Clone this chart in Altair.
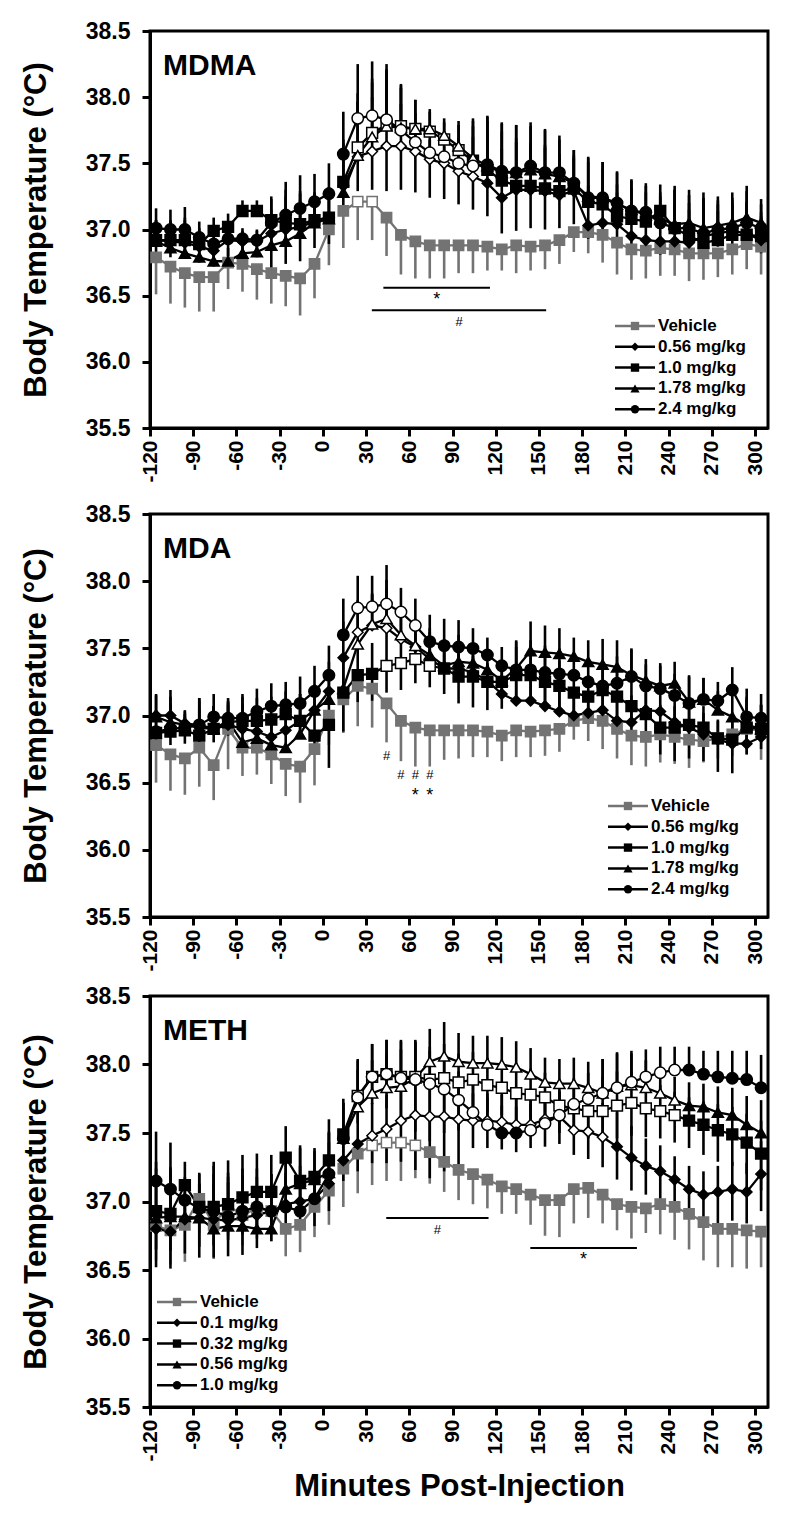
import altair as alt
import pandas as pd

FONT = "Liberation Sans"
GREY = "#737373"

# ---------------- data ----------------
times = [-120, -110, -100, -90, -80, -70, -60, -50, -40, -30, -20, -10, 0,
         10, 20, 30, 40, 50, 60, 70, 80, 90, 100, 110, 120, 130, 140, 150, 160,
         170, 180, 190, 200, 210, 220, 230, 240, 250, 260, 270, 280, 290, 300]

mdma_labels = ["Vehicle", "0.56 mg/kg", "1.0 mg/kg", "1.78 mg/kg", "2.4 mg/kg"]
meth_labels = ["Vehicle", "0.1 mg/kg", "0.32 mg/kg", "0.56 mg/kg", "1.0 mg/kg"]

# MDMA
mdma_veh = [36.79, 36.72, 36.67, 36.64, 36.64, 36.75, 36.74, 36.70, 36.67, 36.65, 36.63, 36.74, 37.00,
            37.14, 37.21, 37.21, 37.09, 36.96, 36.91, 36.88, 36.88, 36.88, 36.88, 36.87, 36.85, 36.88, 36.87,
            36.88, 36.92, 36.98, 36.98, 36.96, 36.90, 36.85, 36.84, 36.86, 36.85, 36.82, 36.82, 36.82, 36.85,
            36.89, 36.87]
mdma_veh_sem = [.28, .28, .26, .26, .26, .20, .21, .23, .23, .23, .28, .26, .27,
                .28, .29, .29, .29, .30, .28, .25, .25, .21, .21, .18, .16, .21, .18, .18, .18, .15, .16,
                .21, .24, .23, .21, .21, .20, .21, .20, .18, .19, .19, .21]
mdma_056 = [36.92, 36.91, 36.90, 36.87, 36.84, 36.92, 36.91, 36.91, 36.97, 37.00, 37.02, 37.06, 37.09,
            37.33, 37.55, 37.59, 37.63, 37.63, 37.59, 37.53, 37.50, 37.44, 37.40, 37.35, 37.24, 37.30, 37.30,
            37.29, 37.26, 37.29, 37.03, 37.05, 37.04, 36.95, 36.92, 36.91, 36.91, 36.90, 36.95, 36.97, 36.99,
            36.97, 36.92]
mdma_10 = [36.92, 36.92, 36.92, 36.89, 36.99, 37.02, 37.14, 37.14, 37.07, 37.05, 37.04, 37.07, 37.09,
           37.36, 37.62, 37.73, 37.79, 37.78, 37.76, 37.74, 37.68, 37.60, 37.52, 37.45, 37.37, 37.33, 37.33,
           37.31, 37.29, 37.31, 37.21, 37.19, 37.10, 37.08, 37.06, 37.14, 37.01, 36.95, 36.90, 36.92, 36.96,
           36.96, 36.95]
mdma_178 = [36.91, 36.86, 36.82, 36.79, 36.76, 36.76, 36.82, 36.83, 36.88, 36.91, 36.97, 37.05, 37.08,
            37.28, 37.56, 37.70, 37.78, 37.77, 37.76, 37.76, 37.71, 37.63, 37.54, 37.48, 37.43, 37.43, 37.45,
            37.42, 37.40, 37.35, 37.25, 37.24, 37.19, 37.15, 37.11, 37.08, 37.04, 37.05, 37.01, 37.03, 37.05,
            37.09, 37.05]
mdma_24 = [37.01, 37.00, 37.00, 36.94, 36.89, 36.93, 36.93, 36.92, 37.05, 37.11, 37.16, 37.21, 37.27,
           37.57, 37.84, 37.86, 37.83, 37.75, 37.66, 37.58, 37.55, 37.50, 37.48, 37.49, 37.44, 37.43, 37.48,
           37.43, 37.43, 37.35, 37.24, 37.24, 37.20, 37.14, 37.13, 37.05, 37.01, 37.01, 36.97, 37.00, 37.01,
           37.05, 37.01]
mdma_sem_up = [.15, .15, .17, .12, .10, .10, .08, .08, .18, .25, .25, .21, .23,
               .32, .41, .41, .42, .32, .22, .15, .13, .19, .30, .37, .37, .36, .33, .33, .28, .25, .30,
               .27, .24, .23, .22, .20, .29, .25, .27, .22, .23, .24, .18]
mdma_sem_dn = [.12, .12, .12, .12, .12, .12, .12, .12, .26, .26, .26, .20, .20,
               .20, .26, .29, .34, .33, .31, .29, .27, .25, .25, .25, .27, .31, .29, .29, .25, .25, .10,
               .10, .10, .10, .10, .10, .10, .10, .10, .10, .10, .10, .10]
mdma_open = {0: [(20, 30)], 1: [(20, 100)], 2: [(20, 90)], 3: [(20, 100)], 4: [(20, 100)]}
mdma_bar_x1 = [42, 34]
mdma_bar_x2 = [116, 155]
mdma_bar_y = [36.56, 36.39]
mdma_bar_sym = ["*", "#"]

# MDA
mda_veh = [36.78, 36.71, 36.68, 36.76, 36.63, 36.90, 36.76, 36.76, 36.71, 36.64, 36.62, 36.75, 37.00,
           37.12, 37.22, 37.20, 37.09, 36.96, 36.91, 36.89, 36.89, 36.89, 36.89, 36.88, 36.85, 36.89, 36.88,
           36.89, 36.90, 36.96, 36.98, 36.96, 36.90, 36.85, 36.84, 36.86, 36.84, 36.82, 36.81, 36.83, 36.86,
           36.90, 36.89]
mda_veh_sem = [.28, .27, .27, .29, .26, .30, .21, .20, .22, .24, .27, .27, .22,
               .25, .30, .29, .29, .30, .29, .27, .22, .21, .20, .19, .19, .20, .19, .19, .17, .14, .17,
               .21, .22, .22, .22, .21, .20, .21, .16, .15, .16, .19, .22]
mda_056 = [37.00, 37.00, 36.94, 36.93, 36.90, 36.93, 36.90, 36.88, 36.84, 36.89, 36.96, 37.04, 37.18,
           37.43, 37.62, 37.67, 37.65, 37.57, 37.51, 37.42, 37.35, 37.35, 37.32, 37.26, 37.16, 37.11, 37.11,
           37.07, 37.03, 37.00, 37.02, 37.04, 36.96, 36.95, 37.04, 37.03, 36.95, 36.91, 36.86, 36.82, 36.79,
           36.79, 36.84]
mda_10 = [36.87, 36.88, 36.89, 36.85, 36.90, 36.95, 36.96, 36.96, 36.97, 37.01, 36.96, 36.85, 36.93,
          37.17, 37.30, 37.31, 37.37, 37.39, 37.42, 37.37, 37.35, 37.29, 37.29, 37.25, 37.25, 37.30, 37.30,
          37.25, 37.22, 37.17, 37.14, 37.19, 37.14, 37.07, 37.01, 36.91, 36.91, 36.93, 36.91, 36.83, 36.82,
          36.91, 36.90]
mda_178 = [36.99, 36.95, 36.93, 36.91, 36.90, 36.96, 36.80, 36.83, 36.78, 36.76, 36.86, 37.04, 37.12,
           37.20, 37.53, 37.68, 37.72, 37.60, 37.52, 37.45, 37.37, 37.40, 37.39, 37.34, 37.26, 37.35, 37.48,
           37.47, 37.46, 37.44, 37.40, 37.38, 37.36, 37.30, 37.26, 37.22, 37.24, 37.10, 37.12, 37.04, 36.99,
           36.93, 36.90]
mda_24 = [36.88, 36.90, 36.91, 36.93, 36.99, 36.98, 36.98, 37.03, 37.07, 37.08, 37.09, 37.18, 37.30,
          37.60, 37.80, 37.81, 37.83, 37.77, 37.67, 37.55, 37.52, 37.51, 37.50, 37.45, 37.37, 37.34, 37.34,
          37.32, 37.31, 37.30, 37.25, 37.22, 37.24, 37.29, 37.22, 37.20, 37.15, 37.09, 37.12, 37.11, 37.19,
          36.99, 36.98]
mda_sem_up = [.16, .19, .10, .20, .17, .15, .18, .17, .17, .17, .20, .19, .22,
              .27, .24, .23, .29, .18, .20, .20, .20, .20, .15, .13, .14, .21, .22, .20, .19, .14, .16,
              .19, .20, .20, .16, .17, .16, .20, .16, .14, .17, .21, .18]
mda_sem_dn = [.10, .10, .10, .10, .10, .10, .10, .10, .10, .10, .10, .10, .32,
              .29, .20, .20, .20, .20, .18, .16, .19, .20, .23, .21, .20, .20, .20, .20, .20, .20, .20,
              .20, .20, .20, .20, .20, .25, .25, .25, .25, .25, .20, .15]
mda_open = {1: [(20, 50)], 2: [(40, 70)], 3: [(20, 60)], 4: [(20, 60)]}
mda_mark_t = [40, 50, 60, 70, 60, 70]
mda_mark_y = [36.70, 36.56, 36.56, 36.56, 36.43, 36.43]
mda_mark_sym = ["#", "#", "#", "#", "*", "*"]

# METH
meth_veh = [36.82, 36.79, 36.83, 37.02, 36.83, 36.97, 36.90, 36.95, 36.93, 36.80, 36.83, 36.96, 37.08,
            37.24, 37.35, 37.41, 37.43, 37.43, 37.41, 37.36, 37.29, 37.23, 37.20, 37.16, 37.11, 37.09, 37.05,
            37.01, 37.01, 37.09, 37.10, 37.05, 36.98, 36.96, 36.95, 36.98, 36.96, 36.91, 36.85, 36.80, 36.80,
            36.79, 36.78]
meth_veh_sem = [.25, .25, .27, .25, .25, .22, .22, .22, .22, .20, .20, .22, .25,
                .28, .29, .29, .28, .28, .24, .23, .22, .22, .22, .21, .20, .18, .22, .26, .27, .25, .22,
                .21, .19, .23, .18, .22, .24, .26, .28, .28, .28, .28, .26]
meth_01 = [36.80, 36.78, 36.87, 36.88, 36.87, 36.86, 36.88, 36.90, 36.93, 36.98, 37.00, 37.02, 37.13,
           37.30, 37.42, 37.48, 37.53, 37.59, 37.63, 37.62, 37.62, 37.60, 37.59, 37.59, 37.58, 37.56, 37.56,
           37.60, 37.62, 37.52, 37.51, 37.47, 37.40, 37.32, 37.26, 37.22, 37.16, 37.09, 37.05, 37.07, 37.09,
           37.07, 37.20]
meth_032 = [36.93, 36.91, 37.12, 36.96, 36.96, 36.98, 37.03, 37.07, 37.07, 37.32, 37.15, 37.18, 37.30,
            37.49, 37.77, 37.91, 37.93, 37.91, 37.91, 37.89, 37.90, 37.87, 37.89, 37.85, 37.83, 37.79, 37.78,
            37.76, 37.70, 37.68, 37.66, 37.66, 37.70, 37.72, 37.68, 37.66, 37.63, 37.59, 37.56, 37.52, 37.49,
            37.43, 37.35]
meth_056 = [36.88, 36.89, 36.89, 36.88, 36.80, 36.82, 36.82, 36.80, 36.80, 37.09, 37.13, 37.16, 37.21,
            37.46, 37.69, 37.79, 37.83, 37.84, 37.90, 38.02, 38.06, 38.02, 38.01, 38.01, 38.00, 37.98, 37.93,
            37.87, 37.86, 37.86, 37.83, 37.79, 37.84, 37.85, 37.83, 37.79, 37.74, 37.70, 37.69, 37.65, 37.63,
            37.56, 37.50]
meth_10 = [37.15, 37.09, 37.01, 36.95, 36.93, 36.89, 36.93, 36.96, 36.93, 36.96, 36.93, 37.02, 37.20,
           37.46, 37.76, 37.91, 37.93, 37.90, 37.89, 37.86, 37.82, 37.74, 37.65, 37.56, 37.50, 37.50, 37.52,
           37.57, 37.63, 37.71, 37.75, 37.79, 37.83, 37.87, 37.91, 37.94, 37.96, 37.96, 37.93, 37.91, 37.90,
           37.89, 37.83]
meth_sem_up = [.36, .34, .17, .25, .33, .32, .31, .28, .27, .23, .26, .21, .30,
               .26, .27, .24, .25, .27, .27, .24, .25, .21, .20, .20, .20, .19, .19, .18, .18, .19, .19,
               .25, .25, .23, .20, .19, .17, .17, .17, .19, .20, .21, .24]
meth_sem_dn = [.28, .27, .25, .29, .28, .26, .27, .24, .22, .20, .20, .20, .20,
               .15, .20, .20, .25, .30, .40, .45, .40, .35, .20, .20, .20, .20, .17, .20, .20, .18, .20,
               .22, .24, .24, .21, .20, .20, .20, .22, .23, .23, .23, .27]
meth_open = {0: [(30, 60)], 1: [(30, 190)], 2: [(20, 240)], 3: [(10, 240)], 4: [(20, 110), (140, 240)]}
meth_bar_x1 = [44, 144]
meth_bar_x2 = [115, 218]
meth_bar_y = [36.88, 36.66]
meth_bar_sym = ["#", "*"]

# ---------------- styling ----------------
X_OFFSET = 4.2
SHAPES = ["square", "diamond", "square", "triangle-up", "circle"]
SIZES = [105, 130, 105, 145, 130]
KEYS = ["s0", "s1", "s2", "s3", "s4"]
SYM_SIZE = {"#": 13, "*": 18}

x_scale = alt.Scale(domain=[-120, 309], nice=False, zero=False)
y_scale = alt.Scale(domain=[35.5, 38.5], nice=False, zero=False)


def x_axis():
    return alt.Axis(values=list(range(-120, 301, 30)), labelExpr="'' + datum.value",
                    labelAngle=270, labelFontSize=21, labelFontWeight="bold", tickSize=8,
                    labelPadding=4, labelFlush=False, labelOverlap=False, grid=False,
                    titleFontSize=31, titleFontWeight="bold", titlePadding=10)


y_axis = alt.Axis(values=[35.5, 36.0, 36.5, 37.0, 37.5, 38.0, 38.5], format=".1f", labelFontSize=23,
                  labelFontWeight="bold", tickSize=8, labelPadding=12, labelOverlap=False, grid=False,
                  titleFontSize=31, titleFontWeight="bold", titlePadding=33)
Y_TITLE = "Body Temperature (°C)"


def X(field, show_title):
    return alt.X(field, scale=x_scale, axis=x_axis(),
                 title="Minutes Post-Injection" if show_title else None)


def Y(field):
    return alt.Y(field, scale=y_scale, axis=y_axis, title=Y_TITLE)


def panel(name, labels, series, veh_sem, sem_up, sem_dn, dn_keys, open_ranges, height,
          legend_x, legend_y, bars=None, marks=None, show_xtitle=False):
    rows, errs = [], []
    for k, vals in enumerate(series):
        grp = "veh" if k == 0 else "drug"
        for i, (t, v) in enumerate(zip(times, vals)):
            is_open = any(a <= t <= b for a, b in open_ranges.get(k, []))
            xp = t + X_OFFSET
            rows.append(dict(xp=xp, v=v, sk=KEYS[k], phase="pre" if t <= 0 else "post",
                             grp=grp, fk="open" if is_open else grp))
            if k == 0:
                errs.append(dict(xp=xp, lo=v - veh_sem[i], hi=v, grp=grp))
            else:
                errs.append(dict(xp=xp, lo=v, hi=v + sem_up[i], grp=grp))
                if k in dn_keys:
                    errs.append(dict(xp=xp, lo=v - sem_dn[i], hi=v, grp=grp))
    df = pd.DataFrame(rows)
    edf = pd.DataFrame(errs)
    col_scale = alt.Scale(domain=["veh", "drug"], range=[GREY, "black"])

    err_layer = alt.Chart(edf).mark_rule(strokeWidth=2.6).encode(
        x=X("xp:Q", show_xtitle), y=Y("lo:Q"), y2="hi:Q",
        color=alt.Color("grp:N", scale=col_scale, legend=None))
    line_layer = alt.Chart(df).mark_line(strokeWidth=2.3).encode(
        x=X("xp:Q", show_xtitle), y=Y("v:Q"),
        color=alt.Color("grp:N", scale=col_scale, legend=None),
        detail=["sk:N", "phase:N"])
    pt_layer = alt.Chart(df).mark_point(filled=True, opacity=1, strokeWidth=1.5).encode(
        x=X("xp:Q", show_xtitle), y=Y("v:Q"),
        shape=alt.Shape("sk:N", scale=alt.Scale(domain=KEYS, range=SHAPES), legend=None),
        size=alt.Size("sk:N", scale=alt.Scale(domain=KEYS, range=SIZES), legend=None),
        fill=alt.Fill("fk:N", scale=alt.Scale(domain=["open", "veh", "drug"],
                                              range=["white", GREY, "black"]), legend=None),
        stroke=alt.Stroke("grp:N", scale=col_scale, legend=None))
    layers = [err_layer, line_layer, pt_layer]

    if bars:
        x1, x2, yv, sym = bars
        bdf = pd.DataFrame(dict(x1=x1, x2=x2, y=yv, sym=sym))
        bdf["xm"] = (bdf["x1"] + bdf["x2"]) / 2
        layers.append(alt.Chart(bdf).mark_rule(strokeWidth=2, color="black").encode(
            x=X("x1:Q", show_xtitle), x2="x2:Q", y=Y("y:Q")))
        for s in ["#", "*"]:
            layers.append(alt.Chart(bdf[bdf["sym"] == s]).mark_text(
                fontSize=SYM_SIZE[s], font=FONT, baseline="middle", dy=12, color="black").encode(
                x=X("xm:Q", show_xtitle), y=Y("y:Q"), text="sym:N"))
    if marks:
        mt, my, ms = marks
        mdf = pd.DataFrame(dict(t=mt, y=my, sym=ms))
        mdf["xp"] = mdf["t"] + X_OFFSET
        for s in ["#", "*"]:
            layers.append(alt.Chart(mdf[mdf["sym"] == s]).mark_text(
                fontSize=SYM_SIZE[s], font=FONT, baseline="middle", dy=(4 if s == "*" else 0),
                color="black").encode(x=X("xp:Q", show_xtitle), y=Y("y:Q"), text="sym:N"))

    # legend (drawn inside the plot)
    for j, lab in enumerate(labels):
        py = legend_y + j * 20.8
        col = GREY if j == 0 else "black"
        ldf = pd.DataFrame(dict(label=[lab]))
        layers.append(alt.Chart(ldf).mark_rule(strokeWidth=2.5, color=col).encode(
            x=alt.value(legend_x), x2=alt.value(legend_x + 40), y=alt.value(py)))
        layers.append(alt.Chart(ldf).mark_point(shape=SHAPES[j], filled=True, opacity=1,
                                                size=70 if j != 3 else 85, color=col).encode(
            x=alt.value(legend_x + 20), y=alt.value(py)))
        layers.append(alt.Chart(ldf).mark_text(align="left", baseline="middle", fontSize=17,
                                               fontWeight="bold", font=FONT, color="black").encode(
            x=alt.value(legend_x + 43), y=alt.value(py), text="label:N"))

    tdf = pd.DataFrame(dict(name=[name]))
    layers.append(alt.Chart(tdf).mark_text(align="left", baseline="alphabetic", fontSize=30,
                                           fontWeight="bold", font=FONT, color="black").encode(
        x=alt.value(13), y=alt.value(44), text="name:N"))

    return alt.layer(*layers).properties(width=618, height=height)


p1 = panel("MDMA", mdma_labels, [mdma_veh, mdma_056, mdma_10, mdma_178, mdma_24], mdma_veh_sem,
           mdma_sem_up, mdma_sem_dn, [1], mdma_open, 397, 465, 295,
           bars=(mdma_bar_x1, mdma_bar_x2, mdma_bar_y, mdma_bar_sym))
p2 = panel("MDA", mdma_labels, [mda_veh, mda_056, mda_10, mda_178, mda_24], mda_veh_sem,
           mda_sem_up, mda_sem_dn, [2], mda_open, 403, 458, 292,
           marks=(mda_mark_t, mda_mark_y, mda_mark_sym))
p3 = panel("METH", meth_labels, [meth_veh, meth_01, meth_032, meth_056, meth_10], meth_veh_sem,
           meth_sem_up, meth_sem_dn, [1, 2], meth_open, 411, 7, 306,
           bars=(meth_bar_x1, meth_bar_x2, meth_bar_y, meth_bar_sym), show_xtitle=True)

top_pair = alt.vconcat(p1, p2, spacing=17)
chart = alt.vconcat(top_pair, p3, spacing=10).resolve_scale(
    x="independent", y="independent"
).properties(
    padding={"left": 10, "top": 10, "right": 5, "bottom": 2}
).configure_view(
    stroke="black", strokeWidth=3
).configure_axis(
    labelFont=FONT, titleFont=FONT, labelColor="black", titleColor="black",
    domainColor="black", tickColor="black", domainWidth=3, tickWidth=3
).configure_text(font=FONT)

chart.save("out.html", embed_options={"renderer": "svg", "actions": False})
